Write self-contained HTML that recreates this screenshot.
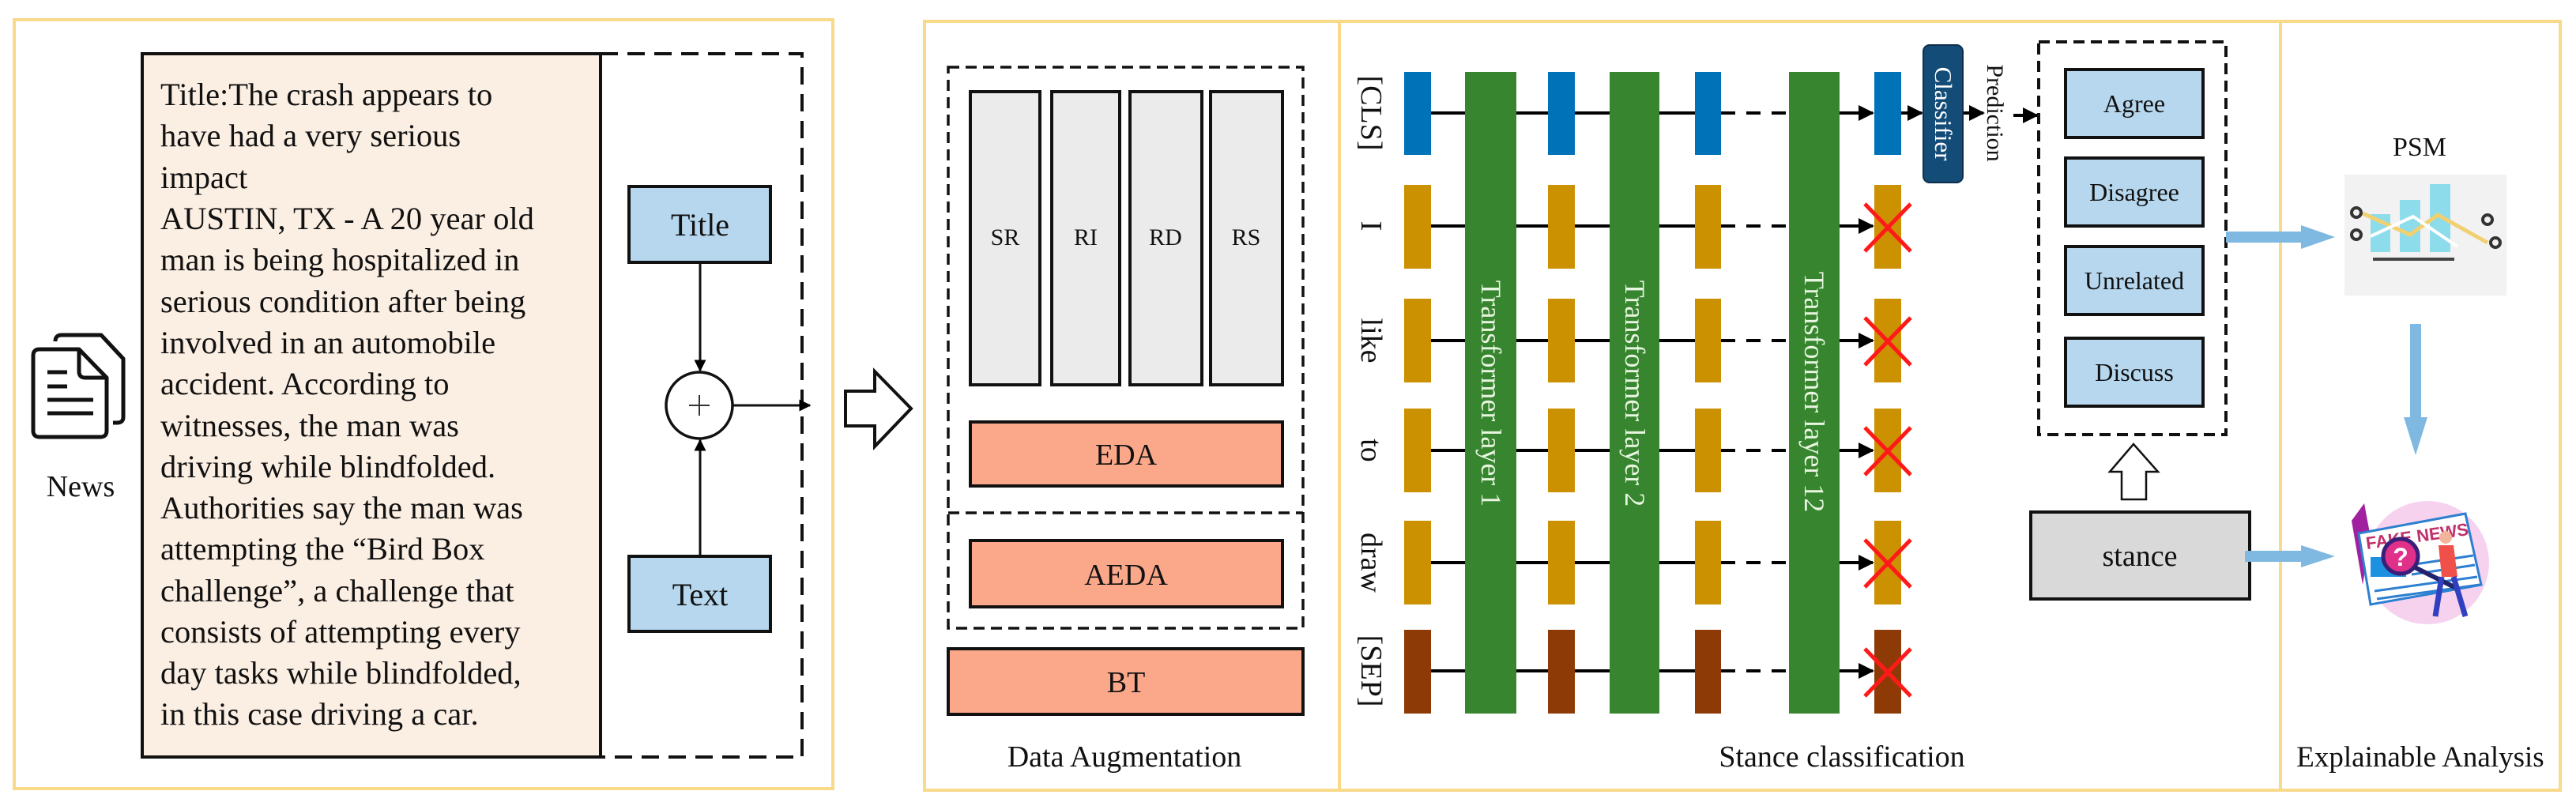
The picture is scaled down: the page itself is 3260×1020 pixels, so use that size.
<!DOCTYPE html>
<html><head><meta charset="utf-8"><style>
html,body{margin:0;padding:0;background:#fff;}
svg{display:block;font-family:"Liberation Serif","DejaVu Serif",serif;}
svg text{font-family:"Liberation Serif","DejaVu Serif",serif;fill:#111;}
</style></head><body>
<svg width="3260" height="1020" viewBox="0 0 3260 1020" xmlns="http://www.w3.org/2000/svg" font-family="Liberation Serif, DejaVu Serif, serif">
<defs>
<marker id="ah" viewBox="0 0 10 10" refX="9" refY="5" markerWidth="5" markerHeight="5" orient="auto" markerUnits="strokeWidth"><path d="M0,0 L10,5 L0,10 z" fill="#000"/></marker>
</defs>
<g fill="none" stroke="#f9d98a" stroke-width="4">
<rect x="18" y="25" width="1036" height="973"/>
<rect x="1170" y="27" width="525" height="973"/>
<rect x="1695" y="27" width="1191" height="973"/>
<rect x="2886" y="27" width="354" height="973"/>
</g>

<g fill="none" stroke="#111" stroke-width="5" stroke-linejoin="round">
<path d="M70,432 Q70,424 78,424 L128,424 L156,454 L156,528 Q156,535 148,535 L143,535"/>
<path d="M50,442 L100,442 L135,478 L135,545 Q135,553 127,553 L50,553 Q42,553 42,545 L42,450 Q42,442 50,442 Z" fill="#fff"/>
<path d="M100,442 L100,470 Q100,478 108,478 L135,478"/>
<path d="M60,471 L85,471 M60,489 L85,489 M60,506 L118,506 M60,523 L118,523"/>
</g>
<text x="102" y="628" font-size="38" text-anchor="middle">News</text>

<rect x="180" y="68" width="580" height="890" fill="#fbeee2" stroke="#111" stroke-width="4"/>
<path d="M760,68 L1015,68 L1015,958 L760,958" fill="none" stroke="#111" stroke-width="4" stroke-dasharray="22,12"/>
<g font-size="40.5">
<text x="203" y="133">Title:The crash appears to</text>
<text x="203" y="185">have had a very serious</text>
<text x="203" y="238">impact</text>
<text x="203" y="290">AUSTIN, TX - A 20 year old</text>
<text x="203" y="342">man is being hospitalized in</text>
<text x="203" y="395">serious condition after being</text>
<text x="203" y="447">involved in an automobile</text>
<text x="203" y="499">accident. According to</text>
<text x="203" y="552">witnesses, the man was</text>
<text x="203" y="604">driving while blindfolded.</text>
<text x="203" y="656">Authorities say the man was</text>
<text x="203" y="708">attempting the “Bird Box</text>
<text x="203" y="761">challenge”, a challenge that</text>
<text x="203" y="813">consists of attempting every</text>
<text x="203" y="865">day tasks while blindfolded,</text>
<text x="203" y="917">in this case driving a car.</text>
</g>
<rect x="796" y="236" width="179" height="96" fill="#b6d7ee" stroke="#111" stroke-width="4"/>
<text x="886" y="298" font-size="40" text-anchor="middle">Title</text>
<rect x="796" y="704" width="179" height="95" fill="#b6d7ee" stroke="#111" stroke-width="4"/>
<text x="886" y="766" font-size="40" text-anchor="middle">Text</text>
<g stroke="#111" stroke-width="3" fill="none">
<line x1="886" y1="332" x2="886" y2="469" marker-end="url(#ah)"/>
<line x1="886" y1="704" x2="886" y2="557" marker-end="url(#ah)"/>
<circle cx="885" cy="513" r="42" fill="#fff" stroke-width="3.5"/>
<line x1="927" y1="513" x2="1025" y2="513" marker-end="url(#ah)"/>
</g>
<path d="M872,513 L898,513 M885,500 L885,526" stroke="#333" stroke-width="2"/>
<path d="M1070,495 L1107,495 L1107,470 L1153,517 L1107,565 L1107,539 L1070,539 Z" fill="#fff" stroke="#111" stroke-width="4"/>

<path d="M1200,85 L1649,85 L1649,795 L1200,795 Z M1200,649 L1649,649" fill="none" stroke="#111" stroke-width="3.5" stroke-dasharray="14,8"/>
<g fill="#ebebeb" stroke="#111" stroke-width="4">
<rect x="1228" y="116" width="88" height="371"/>
<rect x="1331" y="116" width="86" height="371"/>
<rect x="1430" y="116" width="91" height="371"/>
<rect x="1532" y="116" width="91" height="371"/>
</g>
<g font-size="30" text-anchor="middle">
<text x="1272" y="310">SR</text><text x="1374" y="310">RI</text><text x="1475" y="310">RD</text><text x="1577" y="310">RS</text>
</g>
<g fill="#fba88a" stroke="#111" stroke-width="4">
<rect x="1228" y="534" width="395" height="81"/>
<rect x="1228" y="684" width="395" height="84"/>
<rect x="1200" y="821" width="449" height="83"/>
</g>
<g font-size="38" text-anchor="middle">
<text x="1425" y="588">EDA</text><text x="1425" y="740">AEDA</text><text x="1425" y="876">BT</text>
<text x="1423" y="970">Data Augmentation</text>
<text x="2331" y="970">Stance classification</text>
<text x="3063" y="970" font-size="37">Explainable Analysis</text>
</g>

<g font-size="38" text-anchor="middle">
<text transform="translate(1723,143) rotate(90)">[CLS]</text>
<text transform="translate(1723,286) rotate(90)">I</text>
<text transform="translate(1723,431) rotate(90)">like</text>
<text transform="translate(1723,570) rotate(90)">to</text>
<text transform="translate(1723,712) rotate(90)">draw</text>
<text transform="translate(1723,849) rotate(90)">[SEP]</text>
</g>

<g stroke="#000" stroke-width="4">
<g>
<line x1="1811" y1="143" x2="2145" y2="143"/>
<line x1="1811" y1="286" x2="2145" y2="286"/>
<line x1="1811" y1="431" x2="2145" y2="431"/>
<line x1="1811" y1="570" x2="2145" y2="570"/>
<line x1="1811" y1="712" x2="2145" y2="712"/>
<line x1="1811" y1="849" x2="2145" y2="849"/>
</g>
<g stroke-dasharray="18,14">
<line x1="2178" y1="143" x2="2264" y2="143"/>
<line x1="2178" y1="286" x2="2264" y2="286"/>
<line x1="2178" y1="431" x2="2264" y2="431"/>
<line x1="2178" y1="570" x2="2264" y2="570"/>
<line x1="2178" y1="712" x2="2264" y2="712"/>
<line x1="2178" y1="849" x2="2264" y2="849"/>
</g>
<g marker-end="url(#ah)">
<line x1="2328" y1="143" x2="2370" y2="143"/>
<line x1="2328" y1="286" x2="2370" y2="286"/>
<line x1="2328" y1="431" x2="2370" y2="431"/>
<line x1="2328" y1="570" x2="2370" y2="570"/>
<line x1="2328" y1="712" x2="2370" y2="712"/>
<line x1="2328" y1="849" x2="2370" y2="849"/>
<line x1="2406" y1="143" x2="2432" y2="143"/>
<line x1="2484" y1="143" x2="2510" y2="143"/>
<line x1="2548" y1="146" x2="2578" y2="146"/>
</g>
</g>

<g>
<g fill="#0072b8">
<rect x="1777" y="91" width="34" height="105"/><rect x="1959" y="91" width="34" height="105"/><rect x="2145" y="91" width="33" height="105"/><rect x="2372" y="91" width="34" height="105"/>
</g>
<g fill="#cc9100">
<rect x="1777" y="234" width="34" height="106"/><rect x="1959" y="234" width="34" height="106"/><rect x="2145" y="234" width="33" height="106"/><rect x="2372" y="234" width="34" height="106"/>
<rect x="1777" y="378" width="34" height="106"/><rect x="1959" y="378" width="34" height="106"/><rect x="2145" y="378" width="33" height="106"/><rect x="2372" y="378" width="34" height="106"/>
<rect x="1777" y="517" width="34" height="106"/><rect x="1959" y="517" width="34" height="106"/><rect x="2145" y="517" width="33" height="106"/><rect x="2372" y="517" width="34" height="106"/>
<rect x="1777" y="659" width="34" height="106"/><rect x="1959" y="659" width="34" height="106"/><rect x="2145" y="659" width="33" height="106"/><rect x="2372" y="659" width="34" height="106"/>
</g>
<g fill="#8e3a06">
<rect x="1777" y="797" width="34" height="106"/><rect x="1959" y="797" width="34" height="106"/><rect x="2145" y="797" width="33" height="106"/><rect x="2372" y="797" width="34" height="106"/>
</g>
</g>

<g fill="#37862f">
<rect x="1854" y="91" width="65" height="812"/>
<rect x="2037" y="91" width="63" height="812"/>
<rect x="2264" y="91" width="64" height="812"/>
</g>
<g font-size="36" text-anchor="middle">
<text transform="translate(1875,498) rotate(90)" style="fill:#e8f5e0">Transformer layer 1</text>
<text transform="translate(2057,498) rotate(90)" style="fill:#e8f5e0">Transformer layer 2</text>
<text transform="translate(2284,496) rotate(90)" style="fill:#e8f5e0">Transformer layer 12</text>
</g>

<g stroke="#ff1a1a" stroke-width="5">
<path d="M2360,258 L2418,318 M2418,258 L2360,318"/>
<path d="M2360,402 L2418,462 M2418,402 L2360,462"/>
<path d="M2360,541 L2418,601 M2418,541 L2360,601"/>
<path d="M2360,683 L2418,743 M2418,683 L2360,743"/>
<path d="M2360,821 L2418,881 M2418,821 L2360,881"/>
</g>

<rect x="2434" y="57" width="50" height="174" rx="8" fill="#144c78" stroke="#0d2f4c" stroke-width="2"/>
<text transform="translate(2449,144) rotate(90)" font-size="31" text-anchor="middle" style="fill:#fff">Classifier</text>
<text transform="translate(2515,143) rotate(90)" font-size="30" text-anchor="middle">Prediction</text>

<rect x="2580" y="53" width="237" height="497" fill="none" stroke="#111" stroke-width="4" stroke-dasharray="14,8"/>
<g fill="#b6d7ee" stroke="#111" stroke-width="4">
<rect x="2614" y="88" width="174" height="86"/>
<rect x="2614" y="200" width="174" height="86"/>
<rect x="2614" y="312" width="174" height="86"/>
<rect x="2614" y="428" width="174" height="86"/>
</g>
<g font-size="32" text-anchor="middle">
<text x="2701" y="142">Agree</text><text x="2701" y="254">Disagree</text><text x="2701" y="366">Unrelated</text><text x="2701" y="482">Discuss</text>
</g>
<path d="M2685,632 L2685,597 L2670,597 L2700,562 L2731,597 L2716,597 L2716,632 Z" fill="#fff" stroke="#111" stroke-width="2.5"/>
<rect x="2570" y="648" width="277" height="110" fill="#d9d9d9" stroke="#111" stroke-width="4"/>
<text x="2708" y="716" font-size="38" text-anchor="middle">stance</text>

<g fill="#7fb8e0">
<path d="M2817,293 L2912,293 L2912,285 L2955,300 L2912,315 L2912,307 L2817,307 Z"/>
<path d="M2841,697 L2912,697 L2912,690 L2955,704 L2912,718 L2912,711 L2841,711 Z"/>
<path d="M3050,410 L3064,410 L3064,528 L3072,528 L3057,576 L3042,528 L3050,528 Z"/>
</g>

<text x="3062" y="197" font-size="34" text-anchor="middle">PSM</text>
<rect x="2967" y="221" width="205" height="153" fill="#f2f2f2"/>
<g fill="#8ddcec">
<rect x="3000" y="271" width="25" height="48"/><rect x="3037" y="253" width="26" height="66"/><rect x="3075" y="233" width="26" height="86"/>
</g>
<path d="M2990,270 L3050,297 L3085,272 L3148,307" fill="none" stroke="#f0d070" stroke-width="5"/>
<path d="M3000,299 L3054,274 L3110,312" fill="none" stroke="#fff" stroke-width="4"/>
<g fill="none" stroke="#333" stroke-width="4">
<circle cx="2982" cy="269" r="6"/><circle cx="2982" cy="297" r="6"/><circle cx="3148" cy="278" r="6"/><circle cx="3158" cy="307" r="6"/>
</g>
<rect x="3003" y="326" width="103" height="4" fill="#444"/>

<circle cx="3072" cy="712" r="78" fill="#f6d2ee"/>
<path d="M2976,659 L2992,637 L3000,680 L2990,740 Z" fill="#a020a0"/>
<path d="M2985,675 L3120,650 L3140,740 L3000,765 Z" fill="#fff" stroke="#2d7fd0" stroke-width="3"/>
<text x="3060" y="686" font-size="22" font-weight="bold" text-anchor="middle" transform="rotate(-8 3060 686)" style="fill:#c0306a;font-family:'Liberation Sans',sans-serif">FAKE NEWS</text>
<rect x="3000" y="705" width="45" height="25" fill="#1e90e0"/>
<g stroke="#2d7fd0" stroke-width="3"><path d="M3050,715 L3130,703 M3052,727 L3132,715 M3005,748 L3135,730 M3008,758 L3138,740"/></g>
<circle cx="3038" cy="704" r="22" fill="#e0308a" stroke="#3a1f7a" stroke-width="5"/>
<text x="3038" y="716" font-size="32" font-weight="bold" text-anchor="middle" style="fill:#fff;font-family:'Liberation Sans',sans-serif">?</text>
<path d="M3056,718 L3110,745" stroke="#22236a" stroke-width="6"/>
<path d="M3086,690 L3105,690 L3110,730 L3090,730 Z" fill="#f0504a"/>
<path d="M3090,730 L3082,780 M3105,730 L3120,780" stroke="#3040c0" stroke-width="7"/>
<circle cx="3095" cy="680" r="8" fill="#f2b49a"/>
</svg>
</body></html>
